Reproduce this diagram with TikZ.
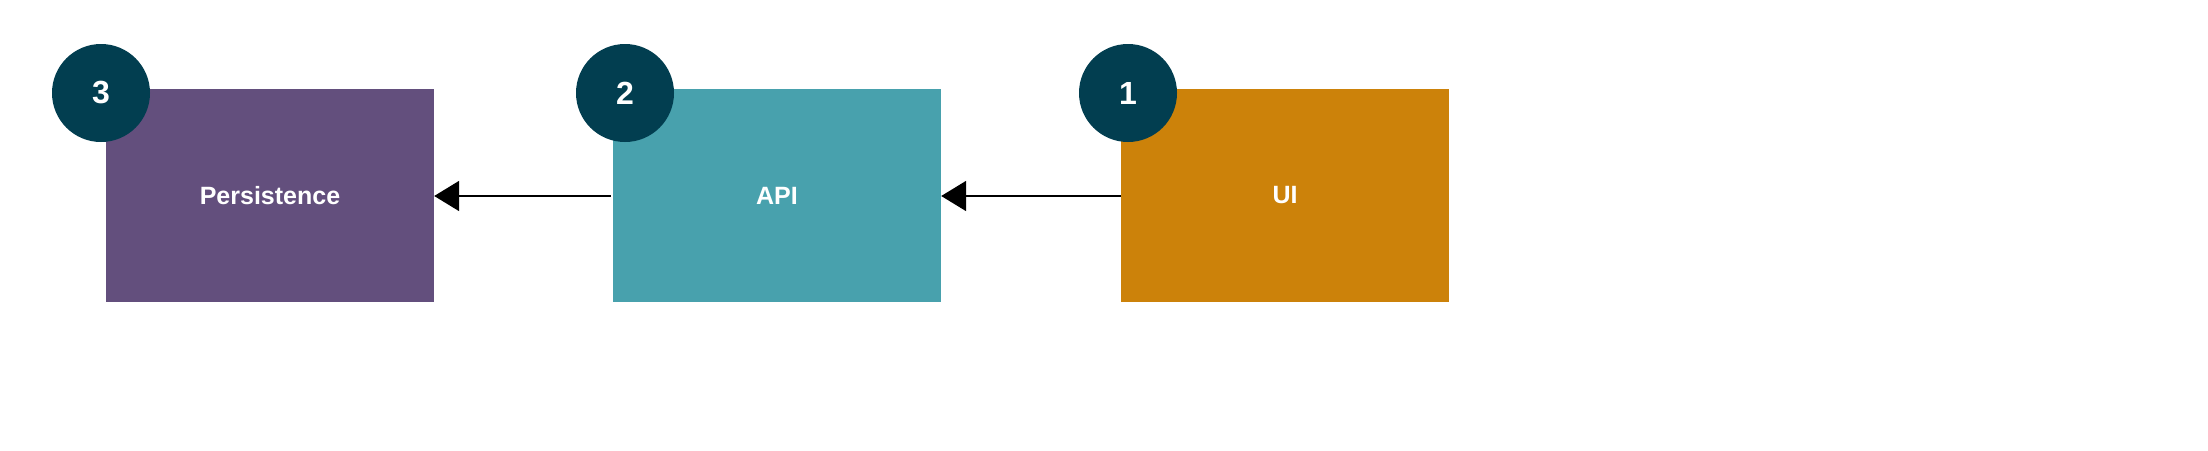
\documentclass[tikz,border=0pt]{standalone}
\usepackage{fontspec}
\setmainfont{Liberation Sans}
\usetikzlibrary{arrows.meta}
\definecolor{cpurple}{HTML}{634F7D}
\definecolor{cteal}{HTML}{48A1AD}
\definecolor{corange}{HTML}{CC820A}
\definecolor{cnum}{HTML}{023E50}
\begin{document}
\begin{tikzpicture}[x=1pt,y=-1pt,
  comp/.style={minimum width=328pt,minimum height=213pt,inner sep=0pt,text=white,font=\bfseries\fontsize{25}{30}\selectfont},
  num/.style={circle,fill=cnum,minimum size=98pt,inner sep=0pt,text=white,font=\bfseries\fontsize{32}{38}\selectfont},
  conn/.style={line width=2pt,-{Triangle[length=25pt,width=30pt]}}]
\useasboundingbox (0,0) rectangle (2208,450);
\node[comp,fill=cpurple] (p) at (270,195.5) {Persistence};
\node[comp,fill=cteal] (a) at (777,195.5) {API};
\node[comp,fill=corange] (u) at (1285,195.5) {UI};
\node[num] (n3) at (101,93) {3};
\node[num] (n2) at (625,93) {2};
\node[num] (n1) at (1128,93) {1};
\draw[conn] (u.west|-0,196) -- (a.east|-0,196);
\draw[conn] ([xshift=-2pt]a.west|-0,196) -- (p.east|-0,196);
\end{tikzpicture}
\end{document}
